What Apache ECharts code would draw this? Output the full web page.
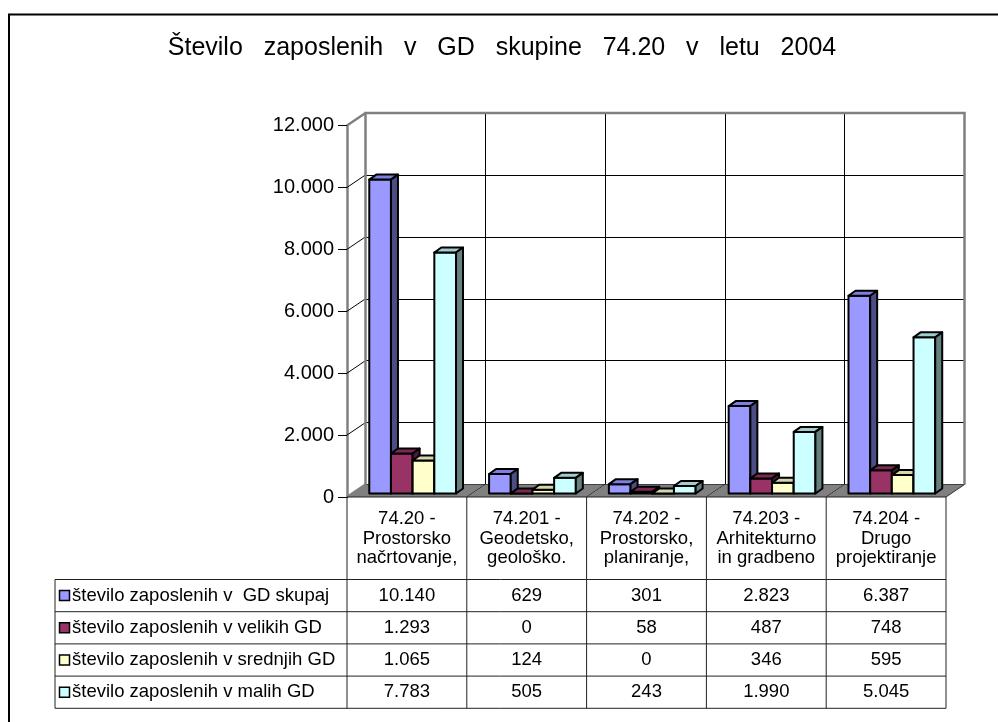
<!DOCTYPE html>
<html>
<head>
<meta charset="utf-8">
<script src="https://cdn.jsdelivr.net/npm/echarts@6/dist/echarts.min.js"></script>
<style>
html,body{margin:0;padding:0;background:#fff;}
#chart{width:998px;height:722px;}
</style>
</head>
<body>
<div id="chart"></div>
<script>
// ---------- data ----------
const titleText = 'Število   zaposlenih   v   GD   skupine   74.20   v   letu   2004';
const categories = [
  ['74.20 -', 'Prostorsko', 'načrtovanje,'],
  ['74.201 -', 'Geodetsko,', 'geološko.'],
  ['74.202 -', 'Prostorsko,', 'planiranje,'],
  ['74.203 -', 'Arhitekturno', 'in gradbeno'],
  ['74.204 -', 'Drugo', 'projektiranje']
];
const seriesNames = [
  'število zaposlenih v  GD skupaj',
  'število zaposlenih v velikih GD',
  'število zaposlenih v srednjih GD',
  'število zaposlenih v malih GD'
];
const skupaj  = [10140, 629, 301, 2823, 6387];
const velikih = [1293, 0, 58, 487, 748];
const srednjih = [1065, 124, 0, 346, 595];
const malih   = [7783, 505, 243, 1990, 5045];
const yMin = 0, yMax = 12000, yStep = 2000;
const yTicks = [0, 2000, 4000, 6000, 8000, 10000, 12000];

// ---------- styles ----------
const seriesValues = [skupaj, velikih, srednjih, malih];
const faceColors = [
  {front: '#9999FF', top: '#7F7FE0', side: '#4D4D85'},
  {front: '#993366', top: '#7A2952', side: '#4D1A33'},
  {front: '#FFFFCC', top: '#D6D6AC', side: '#808066'},
  {front: '#CCFFFF', top: '#A3CCCC', side: '#668080'}
];
const FONT = "'Liberation Sans', Arial, sans-serif";
const DX = 18.5, DY = -12.5;          // wall depth
const BAR_DX = 7, BAR_DY = -5;        // bar depth
const FRONT_DY = -3.5;                // bar front plane shift
const BAR_START = 0.186, BAR_W = 0.181;

function fmt(n) { return String(n).replace(/\B(?=(\d{3})+(?!\d))/g, '.'); }

const chart = echarts.init(document.getElementById('chart'), null, {renderer: 'canvas'});

const catIdx = categories.map((c, i) => i);

function barSeries(s) {
  const col = faceColors[s];
  return {
    type: 'custom', name: seriesNames[s], xAxisIndex: 0, yAxisIndex: 0, z: 3,
    data: seriesValues[s].map((v, i) => [i, v]),
    renderItem: function (params, api) {
      const i = api.value(0), v = api.value(1);
      const base = api.coord([i, 0]);
      const top = api.coord([i, v]);
      const band = api.size([1, 0])[0];
      const left = base[0] - band / 2;
      const x0 = left + band * (BAR_START + s * BAR_W);
      const w = band * BAR_W;
      const yb = base[1] + FRONT_DY, yt = top[1] + FRONT_DY;
      const st = {stroke: '#000', lineWidth: 2, lineJoin: 'round'};
      return {type: 'group', children: [
        {type: 'polygon', shape: {points: [[x0, yb], [x0 + w, yb], [x0 + w, yt], [x0, yt]]},
          style: Object.assign({fill: col.front}, st)},
        {type: 'polygon', shape: {points: [[x0, yt], [x0 + w, yt], [x0 + w + BAR_DX, yt + BAR_DY], [x0 + BAR_DX, yt + BAR_DY]]},
          style: Object.assign({fill: col.top}, st)},
        {type: 'polygon', shape: {points: [[x0 + w, yb], [x0 + w + BAR_DX, yb + BAR_DY], [x0 + w + BAR_DX, yt + BAR_DY], [x0 + w, yt]]},
          style: Object.assign({fill: col.side}, st)}
      ]};
    }
  };
}

// floor segments per category
const floorSeries = {
  type: 'custom', xAxisIndex: 0, yAxisIndex: 0, z: 1, silent: true,
  data: catIdx.map(i => [i, 0]),
  renderItem: function (params, api) {
    const i = api.value(0);
    const base = api.coord([i, 0]);
    const band = api.size([1, 0])[0];
    const l = base[0] - band / 2, r = base[0] + band / 2, y = base[1];
    const children = [
      {type: 'polygon', shape: {points: [[l, y], [r, y], [r + DX, y + DY], [l + DX, y + DY]]},
        style: {fill: '#808080', stroke: null}},
      {type: 'line', shape: {x1: r, y1: y, x2: r + DX, y2: y + DY},
        style: {stroke: i === categories.length - 1 ? '#333' : '#000', lineWidth: 1}}
    ];
    if (i === 0) {
      children.push({type: 'line', shape: {x1: l, y1: y, x2: l + DX, y2: y + DY},
        style: {stroke: '#808080', lineWidth: 2.5}});
    }
    return {type: 'group', children: children};
  }
};

// side wall diagonals at each y tick + back wall outline
const sideSeries = {
  type: 'custom', xAxisIndex: 0, yAxisIndex: 0, z: 1, silent: true,
  data: yTicks.map(t => [0, t]),
  renderItem: function (params, api) {
    const t = api.value(1);
    const p = api.coord([0, t]);
    const band = api.size([1, 0])[0];
    const l = p[0] - band / 2;
    const children = [];
    if (t > yMin) {
      const isTop = t === yMax;
      children.push({type: 'line', shape: {x1: l, y1: p[1], x2: l + DX, y2: p[1] + DY},
        style: {stroke: isTop ? '#808080' : '#000', lineWidth: isTop ? 2.5 : 1}});
    }
    if (t === yMax) {
      const p0 = api.coord([0, yMin]);
      const pr = api.coord([categories.length - 1, yMax]);
      const r = pr[0] + band / 2;
      children.push({type: 'polyline', shape: {points: [
        [l + DX, p0[1] + DY], [l + DX, p[1] + DY], [r + DX, p[1] + DY], [r + DX, p0[1] + DY]
      ]}, style: {stroke: '#808080', lineWidth: 2.5, fill: null}});
    }
    return {type: 'group', children: children};
  }
};

const option = {
  backgroundColor: '#fff',
  animation: false,
  grid: [
    {left: 347, right: 52, top: 125.5, bottom: 225},           // front plane
    {left: 365.5, right: 33.5, top: 113, bottom: 237.5}        // back wall
  ],
  xAxis: [
    {gridIndex: 0, type: 'category', data: categories.map(c => c.join(' ')),
      axisLine: {show: false}, axisTick: {show: false}, axisLabel: {show: false}},
    {gridIndex: 1, type: 'category', data: categories.map(c => c.join(' ')),
      axisLine: {show: false}, axisTick: {show: false}, axisLabel: {show: false},
      splitLine: {show: true, interval: 0, lineStyle: {color: '#000', width: 1}}}
  ],
  yAxis: [
    {gridIndex: 0, type: 'value', min: yMin, max: yMax, interval: yStep,
      axisLine: {show: true, lineStyle: {color: '#808080', width: 2.5}},
      axisTick: {show: true, length: 9, lineStyle: {color: '#000', width: 1}},
      axisLabel: {margin: 13, color: '#000', fontFamily: FONT, fontSize: 20, formatter: v => fmt(v)},
      splitLine: {show: false}},
    {gridIndex: 1, type: 'value', min: yMin, max: yMax, interval: yStep,
      axisLine: {show: false}, axisTick: {show: false}, axisLabel: {show: false},
      splitLine: {show: true, lineStyle: {color: '#000', width: 1}}}
  ],
  series: [floorSeries, sideSeries, barSeries(0), barSeries(1), barSeries(2), barSeries(3)]
};
chart.setOption(option);

// ---------- data table (text) ----------
function buildTable() {
  const centers = catIdx.map(i => chart.convertToPixel({xAxisIndex: 0}, i));
  const band = centers.length > 1 ? centers[1] - centers[0] : 120;
  const y0 = chart.convertToPixel({yAxisIndex: 0}, 0);
  const xl = centers[0] - band / 2;
  const xr = centers[centers.length - 1] + band / 2;
  const headerBottom = y0 + 82.5;
  const rowH = 32.2;
  const legendLeft = 55;
  const tableBottom = headerBottom + rowH * seriesNames.length;
  const lc = '#222';
  const g = [];
  const line = (x1, y1, x2, y2) => g.push({type: 'line', shape: {x1, y1, x2, y2}, style: {stroke: lc, lineWidth: 1}, z: 10});
  // outer border of the whole chart
  g.push({type: 'rect', shape: {x: 9, y: 14.5, width: 1100, height: 800}, style: {fill: null, stroke: '#000', lineWidth: 2}, z: 20});
  // title
  g.push({type: 'text', x: 502, y: 48, z: 20, style: {text: titleText, fill: '#000', font: '25px ' + FONT, textAlign: 'center', textVerticalAlign: 'middle'}});
  // header
  line(xl, y0, xr, y0);
  line(legendLeft, headerBottom, xr, headerBottom);
  for (let k = 0; k <= categories.length; k++) {
    const x = xl + k * band;
    line(x, y0, x, tableBottom);
  }
  line(legendLeft, headerBottom, legendLeft, tableBottom);
  categories.forEach((c, i) => {
    g.push({type: 'text', x: centers[i], y: (y0 + headerBottom) / 2 + 0.5, z: 10,
      style: {text: c.join('\n'), fill: '#000', font: '18.5px ' + FONT, lineHeight: 19.5, textAlign: 'center', textVerticalAlign: 'middle'}});
  });
  seriesNames.forEach((name, s) => {
    const yt = headerBottom + s * rowH;
    line(legendLeft, yt + rowH, xr, yt + rowH);
    const cy = yt + rowH / 2;
    g.push({type: 'rect', shape: {x: 59.5, y: cy - 5, width: 10, height: 10}, z: 10,
      style: {fill: faceColors[s].front, stroke: '#000', lineWidth: 1.5}});
    g.push({type: 'text', x: 72, y: cy, z: 10,
      style: {text: name, fill: '#000', font: '18.5px ' + FONT, textAlign: 'left', textVerticalAlign: 'middle'}});
    seriesValues[s].forEach((v, i) => {
      g.push({type: 'text', x: centers[i], y: cy, z: 10,
        style: {text: fmt(v), fill: '#000', font: '18.5px ' + FONT, textAlign: 'center', textVerticalAlign: 'middle'}});
    });
  });
  chart.setOption({graphic: g});
}
buildTable();
</script>
</body>
</html>
